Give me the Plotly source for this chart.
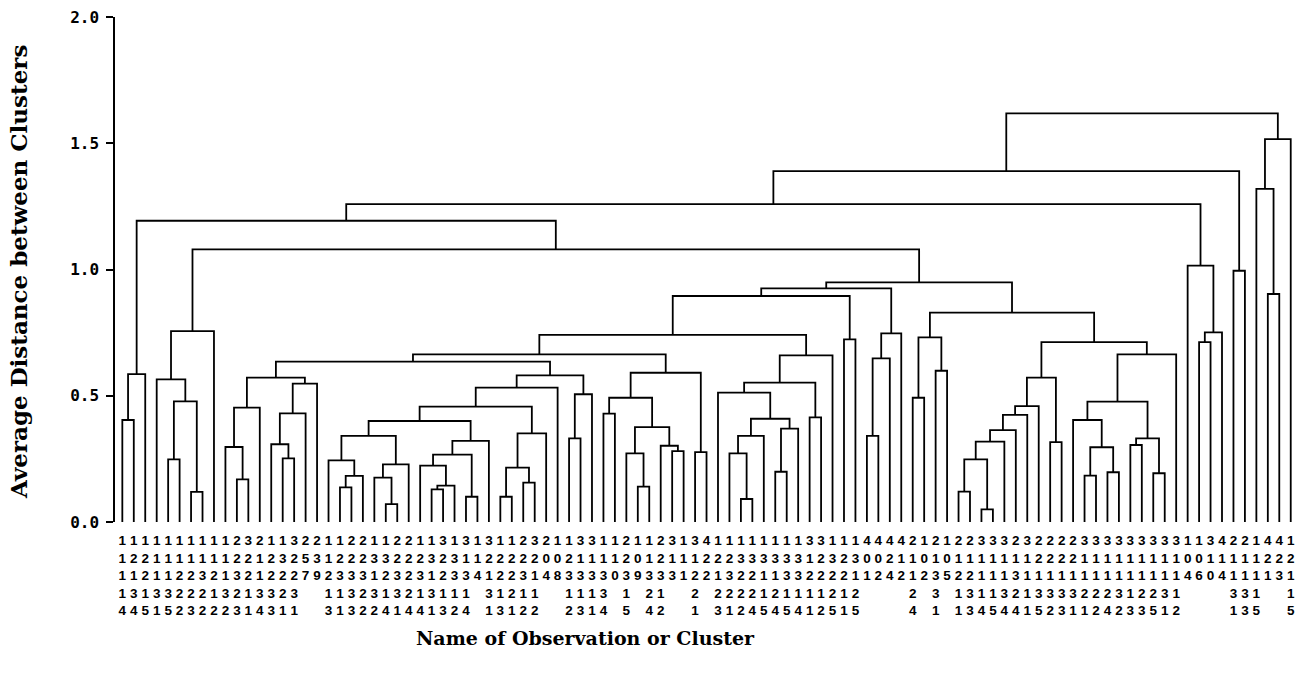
import plotly.graph_objects as go

# ---------------- data ----------------
N_LEAVES = 103

# vertical leaf labels, one string per text row (column i = leaf i)
label_row1 = ("1111111111" + "2321132211221122" + "1131313112321133112112313" + "4" + "11111111"
              + "33" + "111" + "4444" + "21212233" + "3" + "2" + "3" + "2222" + "333333333" + "1134221441")
label_row2 = ("12211111112212325312223322" + "2323112222200211112012111" + "22233333312323002110101111"
              + "111" + "2222" + "111111111" + "00" + "11111" + "222")
label_row3 = ("1121122321321222" + "7923331232" + "3123341223148333303933312" + "21322113322221124212352211"
              + "13" + "11111111111111" + "4604" + "1111" + "31")
label_row4 = ("1313322213213323" + "  " + "1132313213111" + " " + "31211" + "  " + "1113" + " " + "1" + " "
              + "21" + "  " + "2" + " " + "2222121111212" + "    " + "2" + " " + "3" + " " + "131"
              + "13213333222312231" + "    " + "331" + "  " + "1")
label_row5 = ("4451523222314311" + "  " + "3132241441324" + " " + "13122" + "  " + "2314" + " " + "5" + " "
              + "42" + "  " + "1" + " " + "3124545412515" + "    " + "4" + " " + "1" + " "
              + "13454415231124233512" + "    " + "135" + "  " + "5")

# merges (average linkage): name, left child, right child, height
merge_names = ["a1", "a2", "b1", "b2", "b3", "b4", "b5",
               "c1", "c2", "c3", "c4", "c5", "c6", "c7", "c8",
               "d1", "d2", "d3", "d4", "d5", "d6", "d7",
               "e1", "e2", "e3", "e4", "e5", "e6", "de",
               "f1", "f2", "f3", "f4", "df", "g38", "h1", "h2", "dh", "ch",
               "i1", "i2", "i3", "i4", "i5", "i6", "i7", "i8", "i9", "ci",
               "j1", "j2", "j3", "j4", "j5", "j6", "j7", "j8", "j9", "j10", "cj",
               "k1", "ck", "l1", "l2", "l3", "cl",
               "n1", "n2", "n3",
               "o1", "o2", "o3", "o4", "o5", "o6", "o7", "o8", "o9",
               "p1", "p2", "p3", "p4", "p5", "p6", "p7", "p8", "p9", "op", "np", "cn",
               "bc", "abc", "q1", "q2", "q3", "aq", "r1", "ar", "s1", "s2", "s3", "root"]
merge_left = [0, "a1", 6, 4, "b2", 3, "b4",
              10, 9, "c2", 14, 13, "c5", "c6", "c3",
              19, "d1", 18, 23, 22, "d5", "d3",
              27, "e1", 26, 30, "e3", "e5", "d7",
              33, 35, "f1", "f3", "de", "df", 39, "h1", "g38", "c8",
              42, 45, 44, 48, 47, "i3", "i1", 50, "i7", "ch",
              54, 53, "j2", 57, "j4", "j3", 52, 60, "j7", "j9", "ci",
              63, "cj", 65, "l1", "l2", "ck",
              69, 71, "n1",
              73, 75, "o1", "o3", "o4", "o5", "o6", 81, "o7",
              84, 86, "p1", 83, 88, 90, "p5", "p4", "p8", "o9", "n3", "cl",
              "b5", "a2", 94, "q1", 93, "abc", 97, "aq", 100, 99, "s2", "ar"]
merge_right = [1, 2, 7, 5, "b1", "b3", 8,
               11, "c1", 12, 15, "c4", 16, 17, "c7",
               20, 21, "d2", 24, "d4", 25, "d6",
               28, 29, "e2", 31, "e4", 32, "e6",
               34, 36, "f2", 37, "f4", 38, 40, 41, "h2", "dh",
               43, 46, "i2", 49, "i4", "i5", "i6", 51, "i8", "i9",
               55, "j1", 56, 58, 59, "j5", "j6", 61, "j8", 62, "j10",
               64, "k1", 66, 67, 68, "l3",
               70, 72, "n2",
               74, 76, "o2", 77, 78, 79, 80, 82, "o8",
               85, 87, "p2", "p3", 89, 91, "p6", "p7", 92, "p9", "op", "np",
               "cn", "bc", 95, 96, "q2", "q3", 98, "r1", 101, "s1", 102, "s3"]
merge_heights = [0.404, 0.586, 0.119, 0.248, 0.478, 0.565, 0.756,
                 0.169, 0.297, 0.453, 0.252, 0.308, 0.430, 0.548, 0.572,
                 0.137, 0.183, 0.244, 0.071, 0.176, 0.228, 0.341,
                 0.129, 0.144, 0.223, 0.100, 0.267, 0.321, 0.400,
                 0.100, 0.156, 0.215, 0.351, 0.457, 0.532, 0.331, 0.506, 0.581, 0.635,
                 0.429, 0.140, 0.272, 0.281, 0.302, 0.376, 0.492, 0.277, 0.591, 0.664,
                 0.091, 0.272, 0.341, 0.199, 0.370, 0.409, 0.512, 0.414, 0.552, 0.660, 0.741,
                 0.723, 0.895, 0.341, 0.648, 0.747, 0.925,
                 0.492, 0.599, 0.731,
                 0.120, 0.050, 0.248, 0.318, 0.364, 0.424, 0.459, 0.316, 0.572,
                 0.184, 0.197, 0.296, 0.404, 0.305, 0.193, 0.331, 0.477, 0.664, 0.712, 0.829, 0.949,
                 1.080, 1.193, 0.712, 0.751, 1.015, 1.259, 0.995, 1.390, 0.903, 1.319, 1.516, 1.618]

y_tick_values = [0.0, 0.5, 1.0, 1.5, 2.0]
y_tick_labels = ["0.0", "0.5", "1.0", "1.5", "2.0"]

# ---------------- build ----------------
pos = {i: float(i) for i in range(N_LEAVES)}
hgt = {i: 0.0 for i in range(N_LEAVES)}
xs, ys = [], []
for name, a, b, h in zip(merge_names, merge_left, merge_right, merge_heights):
    xa, xb = pos[a], pos[b]
    xs += [xa, xa, xb, xb, None]
    ys += [hgt[a], h, h, hgt[b], None]
    pos[name] = (xa + xb) / 2.0
    hgt[name] = h

rows = [label_row1, label_row2, label_row3, label_row4, label_row5]
tick_text = []
for i in range(N_LEAVES):
    chars = [r[i] for r in rows if r[i] != " "]
    tick_text.append("<br>".join(chars))

fig = go.Figure()
fig.add_trace(go.Scatter(x=xs, y=ys, mode="lines",
                         line=dict(color="black", width=1.8),
                         hoverinfo="skip", showlegend=False))

fig.update_layout(
    width=1298, height=679,
    margin=dict(l=115, r=2, t=17, b=157, autoexpand=False),
    paper_bgcolor="white", plot_bgcolor="white",
    xaxis=dict(range=[-0.64, 102.46], showgrid=False, zeroline=False, showline=False,
               automargin=False,
               tickmode="array", tickvals=list(range(N_LEAVES)), ticktext=tick_text,
               tickangle=0, ticks="outside", ticklen=6, tickcolor="rgba(0,0,0,0)",
               tickfont=dict(family="Liberation Sans", size=13.5, color="black", weight="bold")),
    yaxis=dict(range=[0, 2.0], showgrid=False, zeroline=False, showline=True, automargin=False,
               linecolor="black", linewidth=1.5, ticks="outside", ticklen=7, tickwidth=1.5,
               tickcolor="black", tickmode="array", tickvals=y_tick_values, ticktext=y_tick_labels,
               ticklabelstandoff=4,
               tickfont=dict(family="DejaVu Sans Mono", size=16, color="black", weight="bold")),
    annotations=[
        dict(text="Average Distance between Clusters", xref="paper", yref="paper",
             x=(18 - 115) / 1181.0, y=(522 - 272) / 505.0, showarrow=False, textangle=-90,
             xanchor="center", yanchor="middle",
             font=dict(family="DejaVu Serif", size=23, color="black", weight="bold")),
        dict(text="Name of Observation or Cluster", xref="paper", yref="paper",
             x=(585 - 115) / 1181.0, y=(522 - 638) / 505.0, showarrow=False,
             xanchor="center", yanchor="middle",
             font=dict(family="DejaVu Serif", size=19, color="black", weight="bold")),
    ],
)

fig.write_html("out.html", config={"displayModeBar": False},
               post_script="document.body.style.margin='0';document.body.style.padding='0';")
